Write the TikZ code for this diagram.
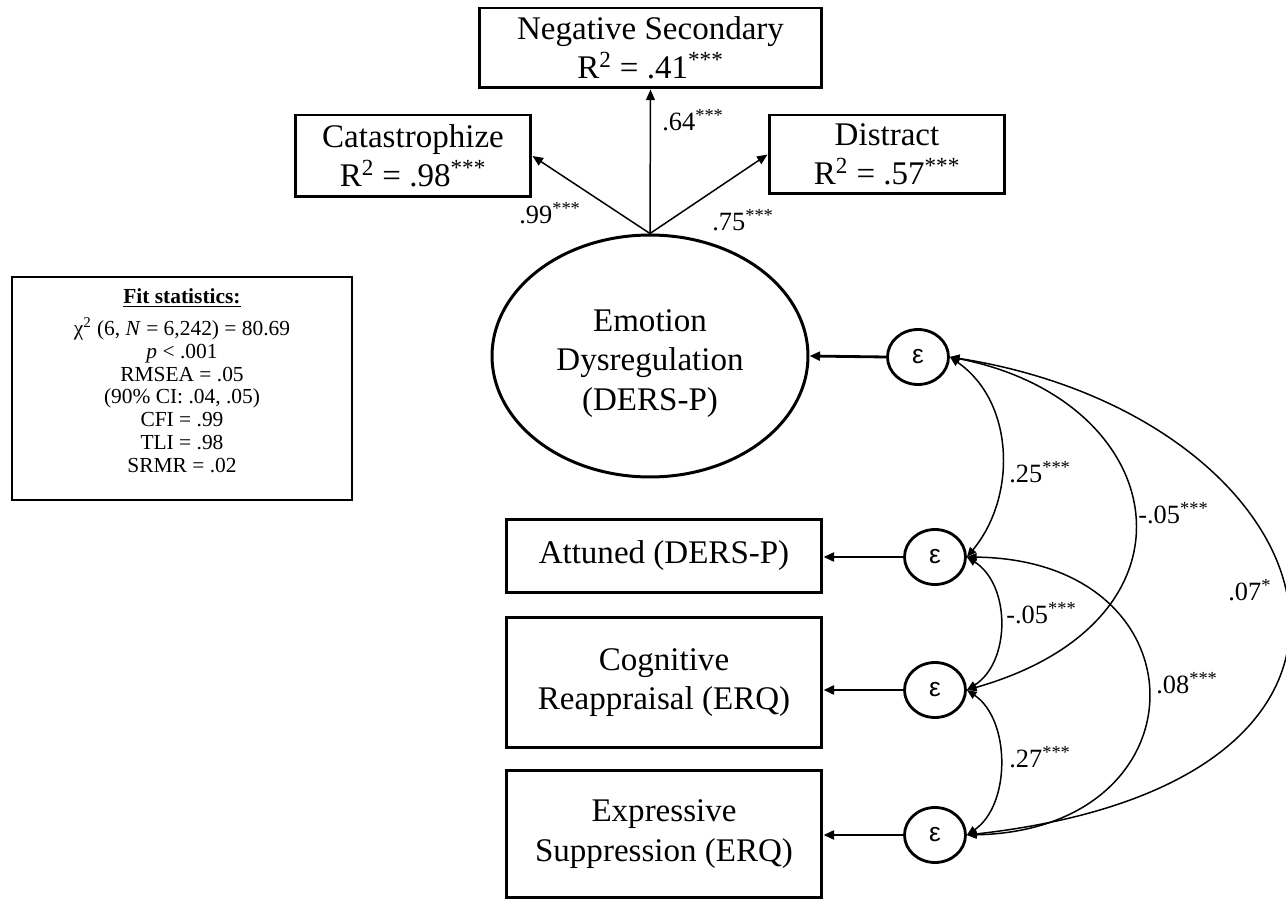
\documentclass[tikz,border=0pt]{standalone}
\usepackage{fontspec}
\setmainfont{Liberation Serif}
\newfontfamily\epsfont{Liberation Sans}
\usetikzlibrary{shapes.geometric,arrows.meta}
\newcommand\sig[1]{\textsuperscript{#1}}
\begin{document}
\begin{tikzpicture}[x=0.02cm,y=-0.02cm,
  box/.style={draw,line width=1.7pt,rectangle,align=center,inner sep=0pt,font=\fontsize{18.8}{22.5}\selectfont},
  lat/.style={draw,ellipse,line width=1.7pt,align=center,inner sep=0pt,font=\fontsize{18.8}{22.7}\selectfont},
  err/.style={draw,ellipse,line width=1.6pt,minimum width=1.22cm,minimum height=1.1cm,inner sep=0pt,font=\epsfont\fontsize{15}{15}\selectfont},
  fit/.style={draw,line width=1.1pt,rectangle,align=center,inner sep=0pt,font=\fontsize{12.2}{13}\selectfont},
  coef/.style={inner sep=0pt,anchor=west,font=\fontsize{15}{15}\selectfont},
  load/.style={line width=0.85pt,-{Triangle[length=6pt,width=5pt]}},
  res/.style={line width=1.6pt,-{Triangle[length=6pt,width=5pt]}},
  cov/.style={line width=0.85pt,{Triangle[length=5.5pt,width=4.5pt]}-{Triangle[length=5.5pt,width=4.5pt]}},
]
\useasboundingbox[fill=white] (0,0) rectangle (1286,902);

% indicators of the latent factor
\node[box,minimum width=6.86cm,minimum height=1.6cm] (ns) at (650.5,48) {Negative Secondary\\R\sig{2} = .41\sig{***}};
\node[box,minimum width=4.72cm,minimum height=1.64cm] (cat) at (413,156) {Catastrophize\\R\sig{2} = .98\sig{***}};
\node[box,minimum width=4.72cm,minimum height=1.58cm] (dis) at (887,154.5) {Distract\\R\sig{2} = .57\sig{***}};

% latent factor
\node[lat,minimum width=6.32cm,minimum height=4.84cm] (emo) at (650,356) {\rule{0pt}{21pt}Emotion\\Dysregulation\\(DERS-P)};

% observed outcomes
\node[box,minimum width=6.32cm,minimum height=1.48cm] (att) at (664,556) {Attuned (DERS-P)};
\node[box,minimum width=6.32cm,minimum height=2.62cm] (cog) at (664,682.5) {Cognitive\\Reappraisal (ERQ)};
\node[box,minimum width=6.32cm,minimum height=2.56cm] (exp) at (664,834) {Expressive\\Suppression (ERQ)};

% fit statistics
\node[fit,minimum width=6.8cm,minimum height=4.46cm] (fitbox) at (182,388.5)
  {\underline{\textbf{Fit statistics:}}\\[5pt]
   χ\sig{2} (6, \textit{N} = 6,242) = 80.69\\
   \textit{p} < .001\\
   RMSEA = .05\\
   (90\% CI: .04, .05)\\
   CFI = .99\\
   TLI = .98\\
   SRMR = .02\rule[-9pt]{0pt}{0pt}};

% residual terms
\node[err] (e1) at (918,357) {ε};
\node[err] (e2) at (935,557) {ε};
\node[err] (e3) at (935,690) {ε};
\node[err] (e4) at (935,835) {ε};

% loadings
\draw[load] (emo.north) -- (ns.south);
\draw[load] (emo.north) -- (cat.east);
\draw[load] (emo.north) -- (dis.west);
\node[coef] (l64) at (662,120) {.64\sig{***}};
\node[coef] (l99) at (519,213) {.99\sig{***}};
\node[coef] (l75) at (712,220) {.75\sig{***}};

% residual paths
\draw[res] (e1.west) -- (emo.east);
\draw[res] (e2.west) -- (e2.west -| att.east);
\draw[res] (e3.west) -- (e3.west -| cog.east);
\draw[res] (e4.west) -- (e4.west -| exp.east);

% covariances
\draw[cov] (e1.east) .. controls +(65,45) and +(50,-60) .. (e2.east);
\draw[cov] (e1.east) .. controls +(221,43) and +(246,-70) .. (e3.east);
\draw[cov] (e1.east) .. controls +(381,60) and +(491,-55) .. (e4.east);
\draw[cov] (e2.east) .. controls +(44,28) and +(44,-28) .. (e3.east);
\draw[cov] (e2.east) .. controls +(241,3) and +(241,-5) .. (e4.east);
\draw[cov] (e3.east) .. controls +(44,30) and +(44,-30) .. (e4.east);

\node[coef] (c12) at (1009,472) {.25\sig{***}};
\node[coef] (c13) at (1138,513) {-.05\sig{***}};
\node[coef] (c14) at (1228,590) {.07\sig{*}};
\node[coef] (c23) at (1006,613) {-.05\sig{***}};
\node[coef] (c24) at (1156,683) {.08\sig{***}};
\node[coef] (c34) at (1009,757) {.27\sig{***}};
\end{tikzpicture}
\end{document}
